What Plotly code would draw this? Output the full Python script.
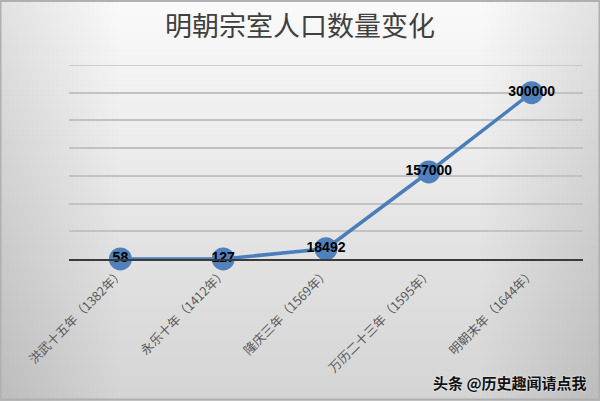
import plotly.graph_objects as go

categories = ["洪武十五年（1382年）", "永乐十年（1412年）", "隆庆三年（1569年）",
              "万历二十三年（1595年）", "明朝末年（1644年）"]
population = [58, 127, 18492, 157000, 300000]
title_text = "明朝宗室人口数量变化"
watermark = "头条 @历史趣闻请点我"
y_max, y_step = 350000, 50000

W, H = 600, 401
L, R, T, B = 69, 17, 65, 142
pw, ph = W - L - R, H - T - B

def px_x(x):
    return (x - L) / pw

def px_y(y):
    return (H - B - y) / ph

fig = go.Figure()
fig.add_trace(go.Scatter(
    x=categories, y=population, mode="lines+markers+text",
    text=[str(v) for v in population], textposition="middle center",
    textfont=dict(family="Liberation Sans, Arial", size=14, color="#000000", weight="bold"),
    line=dict(color="#4A7EBB", width=3.5),
    marker=dict(size=23, color="#4F81BD"),
    cliponaxis=False, hoverinfo="skip", showlegend=False,
))

# background gradient (vertical bands)
shapes = []
n = 80
top_c, bot_c = (250, 250, 250), (212, 212, 212)
for i in range(n):
    y0 = i * H / n
    y1 = (i + 1) * H / n + 0.5
    t = (i + 0.5) / n
    c = tuple(int(round(top_c[k] + (bot_c[k] - top_c[k]) * t)) for k in range(3))
    shapes.append(dict(type="rect", xref="paper", yref="paper", layer="below",
                       x0=px_x(0), x1=px_x(W), y0=px_y(y1), y1=px_y(y0),
                       fillcolor="rgb(%d,%d,%d)" % c, line=dict(width=0)))
# subtle darker side edges
for i in range(24):
    wdt = 4 + i * 5
    shapes.append(dict(type="rect", xref="paper", yref="paper", layer="below",
                       x0=px_x(0), x1=px_x(wdt), y0=px_y(H), y1=px_y(0),
                       fillcolor="rgba(0,0,0,0.004)", line=dict(width=0)))
    shapes.append(dict(type="rect", xref="paper", yref="paper", layer="below",
                       x0=px_x(W - wdt), x1=px_x(W), y0=px_y(H), y1=px_y(0),
                       fillcolor="rgba(0,0,0,0.004)", line=dict(width=0)))
# top gridline (at range edge)
shapes.append(dict(type="line", xref="paper", yref="y", layer="below",
                   x0=0, x1=1, y0=y_max, y1=y_max,
                   line=dict(color="#c2c2c2", width=1.5)))
# border
shapes.append(dict(type="rect", xref="paper", yref="paper", layer="above",
                   x0=px_x(0.5), x1=px_x(W - 0.5), y0=px_y(H - 1.5), y1=px_y(1),
                   line=dict(color="#b0b0b0", width=2), fillcolor="rgba(0,0,0,0)"))

fig.update_layout(
    width=W, height=H,
    margin=dict(l=L, r=R, t=T, b=B, autoexpand=False),
    paper_bgcolor="#e6e6e6", plot_bgcolor="rgba(0,0,0,0)",
    shapes=shapes,
    title=dict(text=title_text, x=0.5, xanchor="center", y=1 - 27 / H, yanchor="middle",
               font=dict(family="Noto Sans CJK SC", size=27, color="#404040")),
    xaxis=dict(type="category", range=[-0.5, 4.5], showgrid=False, zeroline=False,
               showline=True, linecolor="#3a3a3a", linewidth=2, ticks="", automargin=False,
               tickangle=-45, tickfont=dict(family="Noto Sans CJK SC", size=12.5, color="#595959")),
    yaxis=dict(range=[0, y_max], tick0=0, dtick=y_step, showticklabels=False, zeroline=False,
               automargin=False,
               showgrid=True, gridcolor="#c2c2c2", gridwidth=1.5, showline=False),
    annotations=[dict(text=watermark, xref="paper", yref="paper", x=px_x(589), y=px_y(382),
                      xanchor="right", yanchor="middle", showarrow=False,
                      font=dict(family="Noto Sans CJK SC", size=15, color="#111111",
                                weight="bold", shadow="0 0 2px #ffffff"))],
)

fig.write_html("out.html", config={"displayModeBar": False},
               post_script="document.body.style.margin='0';document.body.style.padding='0';")
